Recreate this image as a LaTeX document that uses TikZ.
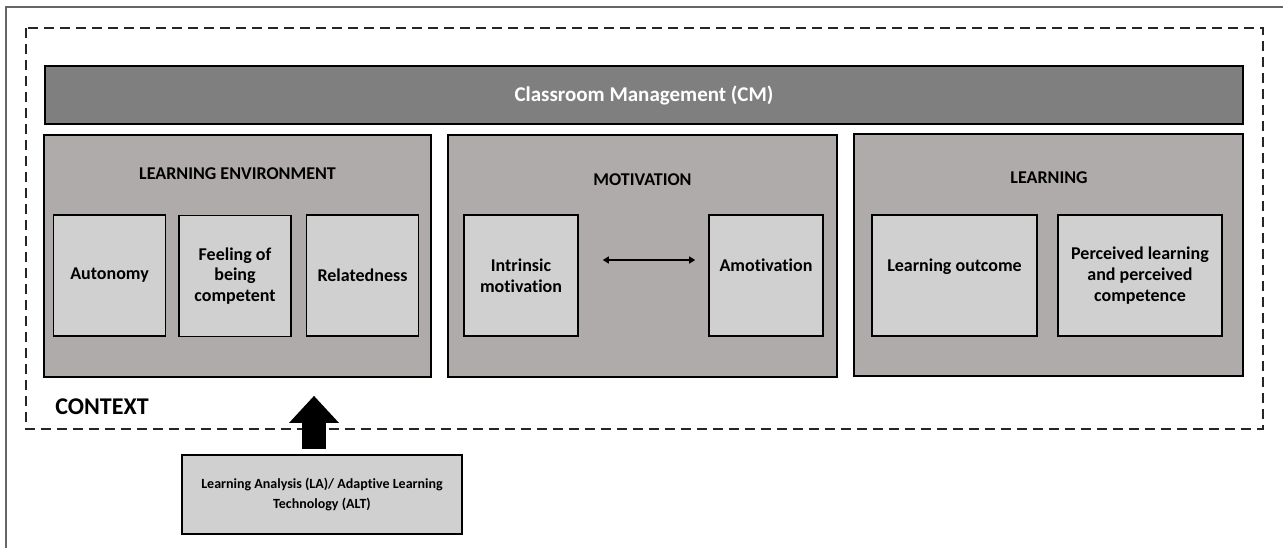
\documentclass[tikz,border=0pt]{standalone}
\usepackage{fontspec}
\setmainfont[Ligatures=NoCommon]{Carlito}
\usetikzlibrary{arrows.meta,calc}

\definecolor{cmgrey}{HTML}{7F7F7F}
\definecolor{boxgrey}{HTML}{B0ABAB}
\definecolor{itemgrey}{HTML}{D0D0D0}

\begin{document}
\begin{tikzpicture}[x=0.5pt,y=-0.5pt,
  font=\bfseries\fontsize{9}{10.3}\selectfont,
  area/.style={draw=black,line width=0.8pt,fill=boxgrey,minimum width=194.5pt,minimum height=121pt,inner sep=0pt},
  item/.style={draw=black,line width=0.8pt,fill=itemgrey,minimum height=60.5pt,inner sep=1pt,align=center},
  title/.style={inner sep=0pt}]

\useasboundingbox (0,0) rectangle (1283,548);

% outer frame, cut off at the right and the bottom
\draw[line width=1pt,black!60] (6,548) -- (6,7) -- (1283,7);

% context
\draw[dash pattern=on 5pt off 3pt,line width=0.75pt,black!85] (26,28) rectangle (1263,429);
\node[anchor=west,inner sep=0pt,font=\bfseries\fontsize{12}{14}\selectfont] (ctx) at (55,407) {CONTEXT};

\node[draw=black,line width=0.8pt,fill=cmgrey,text=white,minimum width=599pt,minimum height=29pt,
  font=\bfseries\fontsize{10.5}{12}\selectfont] (cm) at (644,95) {Classroom Management (CM)};

\node[area,minimum width=193.5pt] (le) at (237.5,256) {};
\node[area] (mot) at (642.5,256) {};
\node[area] (lrn) at (1048.5,255) {};

\node[title] (letitle) at (237.5,174) {LEARNING ENVIRONMENT};
\node[title] (mottitle) at (642.5,180) {MOTIVATION};
\node[title] (lrntitle) at (1049,178) {LEARNING};

\begin{scope}[item/.append style={minimum width=56pt}]
\node[item] (aut) at (109.5,275.5) {Autonomy};
\node[item] (comp) at (235,276) {Feeling of\\being\\competent};
\node[item] (rel) at (362.5,275.5) {Relatedness};
\node[item,minimum width=57pt] (intr) at (521,275.5) {Intrinsic\\motivation};
\node[item,minimum width=57pt] (amot) at (766,275.5) {Amotivation\\\mbox{}};
\end{scope}

\node[item,minimum width=82.5pt] (out) at (954.5,275.5) {Learning outcome\\\mbox{}};
\node[item,minimum width=82pt] (perc) at (1140,275.5) {Perceived learning\\and perceived\\competence};

\draw[line width=0.6pt,{Triangle[length=3pt,width=3.5pt]}-{Triangle[length=3pt,width=3.5pt]}]
  ($(intr.east)+(24,-15.5)$) -- ($(amot.west)+(-13,-15.5)$);

% learning analysis / adaptive learning technology
\node[item,minimum width=140pt,minimum height=39.5pt,font=\bfseries\fontsize{7}{10}\selectfont] (la) at (322,494.5)
  {Learning Analysis (LA)/ Adaptive Learning\\Technology (ALT)};

\coordinate (tip) at ($(le.south)+(76.5,18)$);
\draw[line width=12pt,-{Triangle[width=24pt,length=13.5pt]}] ([yshift=2.5pt]tip |- la.north) -- (tip);

\end{tikzpicture}
\end{document}
